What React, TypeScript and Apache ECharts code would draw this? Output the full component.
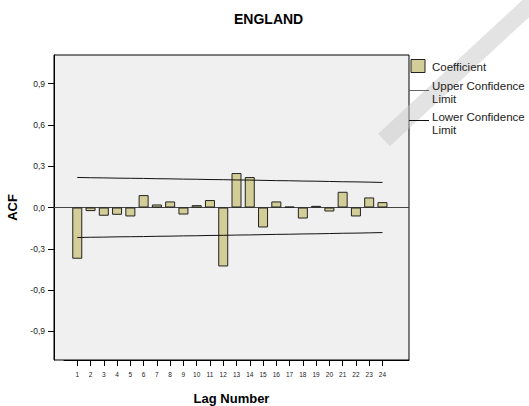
import React, { useEffect, useRef } from "react";
import * as echarts from "echarts";

const lags = [1, 2, 3, 4, 5, 6, 7, 8, 9, 10, 11, 12, 13, 14, 15, 16, 17, 18, 19, 20, 21, 22, 23, 24];
const coefficients = [
  -0.372, -0.026, -0.06, -0.053, -0.065, 0.09, 0.022, 0.044, -0.051, 0.017, 0.054, -0.428,
  0.25, 0.221, -0.145, 0.044, 0.006, -0.08, 0.012, -0.029, 0.114, -0.065, 0.073, 0.039,
];
const upperLimit = [
  0.218, 0.216, 0.215, 0.213, 0.212, 0.211, 0.209, 0.208, 0.206, 0.205, 0.203, 0.202,
  0.2, 0.199, 0.197, 0.195, 0.194, 0.192, 0.191, 0.189, 0.187, 0.186, 0.184, 0.182,
];
const lowerLimit = [
  -0.218, -0.216, -0.215, -0.213, -0.212, -0.211, -0.209, -0.208, -0.206, -0.205, -0.203, -0.202,
  -0.2, -0.199, -0.197, -0.195, -0.194, -0.192, -0.191, -0.189, -0.187, -0.186, -0.184, -0.182,
];
const yTickValues = [-0.9, -0.6, -0.3, 0, 0.3, 0.6, 0.9];

const FONT = "'Liberation Sans', Arial, Helvetica, sans-serif";

export default function App() {
  const ref = useRef<HTMLDivElement>(null);
  useEffect(() => {
    if (!ref.current) return;
    const chart = echarts.init(ref.current, null, { renderer: "svg" });
    const legendText = (text: string, y: number) => ({
      type: "text", x: 432, y,
      style: { text, fontSize: 11.5, fontFamily: FONT, fill: "#222", verticalAlign: "middle" },
    });
    const option: any = {
      animation: false,
      textStyle: { fontFamily: FONT },
      title: {
        text: "ENGLAND",
        left: 234,
        top: 12,
        padding: 0,
        textStyle: { fontSize: 14, fontWeight: "bold", color: "#000", fontFamily: FONT },
      },
      grid: [
        {
          left: 54, top: 55, width: 355, height: 305, show: true, outerBoundsMode: "none",
          containLabel: false,
          backgroundColor: "#f0f0f0", borderColor: "#000", borderWidth: 1,
        },
        { left: 64, top: 55, width: 345, height: 305, show: false, outerBoundsMode: "none", containLabel: false },
      ],
      xAxis: [
        {
          gridIndex: 0, type: "value", min: 0, max: 1,
          axisLine: { show: false, onZero: false }, axisTick: { show: false }, axisLabel: { show: false },
          splitLine: { show: false },
          name: "Lag Number", nameLocation: "middle", nameGap: 32,
          nameTextStyle: { fontSize: 13, fontWeight: "bold", color: "#000", fontFamily: FONT },
        },
        {
          gridIndex: 1, type: "value", min: 0, max: 26, position: "bottom",
          axisLine: { show: true, onZero: false, lineStyle: { color: "#000", width: 1 } },
          axisTick: { show: true, customValues: lags, length: 6, lineStyle: { color: "#000", width: 1 } },
          axisLabel: { customValues: lags, fontSize: 6.5, margin: 11, color: "#222", fontFamily: FONT },
          splitLine: { show: false },
        },
      ],
      yAxis: [
        {
          gridIndex: 0, type: "value", min: -1.107, max: 1.107, position: "left",
          axisLine: { show: true, onZero: false, lineStyle: { color: "#000", width: 1 } },
          axisTick: { show: true, customValues: yTickValues, length: 6, lineStyle: { color: "#000", width: 1 } },
          axisLabel: {
            customValues: yTickValues, fontSize: 8.5, margin: 9, color: "#222", fontFamily: FONT,
            formatter: (v: number) => v.toFixed(1).replace(".", ","),
          },
          splitLine: { show: false },
          name: "ACF", nameLocation: "middle", nameGap: 30,
          nameTextStyle: { fontSize: 13, fontWeight: "bold", color: "#000", fontFamily: FONT },
        },
        {
          gridIndex: 1, type: "value", min: -1.107, max: 1.107, show: false,
          splitLine: { show: false },
        },
      ],
      series: [
        {
          type: "line", xAxisIndex: 0, yAxisIndex: 0, data: [[0, 0], [1, 0]],
          symbol: "none", silent: true, lineStyle: { color: "#444", width: 1 }, z: 1,
        },
        {
          name: "Coefficient", type: "bar", xAxisIndex: 1, yAxisIndex: 1,
          data: lags.map((l, i) => [l, coefficients[i]]),
          barWidth: 10,
          itemStyle: { color: "#d3ce97", borderColor: "#222", borderWidth: 1 },
          z: 2,
        },
        {
          name: "Upper Confidence Limit", type: "line", xAxisIndex: 1, yAxisIndex: 1,
          data: lags.map((l, i) => [l, upperLimit[i]]),
          symbol: "none", lineStyle: { color: "#111", width: 1 }, z: 3,
        },
        {
          name: "Lower Confidence Limit", type: "line", xAxisIndex: 1, yAxisIndex: 1,
          data: lags.map((l, i) => [l, lowerLimit[i]]),
          symbol: "none", lineStyle: { color: "#111", width: 1 }, z: 3,
        },
      ],
      graphic: [
        {
          type: "line", silent: true, z: 0,
          shape: { x1: 535, y1: 0, x2: 384, y2: 140 },
          style: { stroke: "rgba(200,200,200,0.5)", lineWidth: 17 },
        },
        {
          type: "rect", shape: { x: 411, y: 59.5, width: 14, height: 13 },
          style: { fill: "#d3ce97", stroke: "#222", lineWidth: 1 },
        },
        legendText("Coefficient", 67),
        {
          type: "line", shape: { x1: 409, y1: 90.5, x2: 429, y2: 90.5 },
          style: { stroke: "#666", lineWidth: 1 },
        },
        legendText("Upper Confidence", 85.5),
        legendText("Limit", 98.5),
        {
          type: "line", shape: { x1: 409, y1: 120.5, x2: 429, y2: 120.5 },
          style: { stroke: "#111", lineWidth: 1 },
        },
        legendText("Lower Confidence", 117),
        legendText("Limit", 130),
      ],
    };
    chart.setOption(option);
    return () => chart.dispose();
  }, []);
  return (
    <div
      ref={ref}
      style={{ position: "absolute", left: 0, top: 0, width: 529, height: 406, background: "#fff" }}
    />
  );
}
